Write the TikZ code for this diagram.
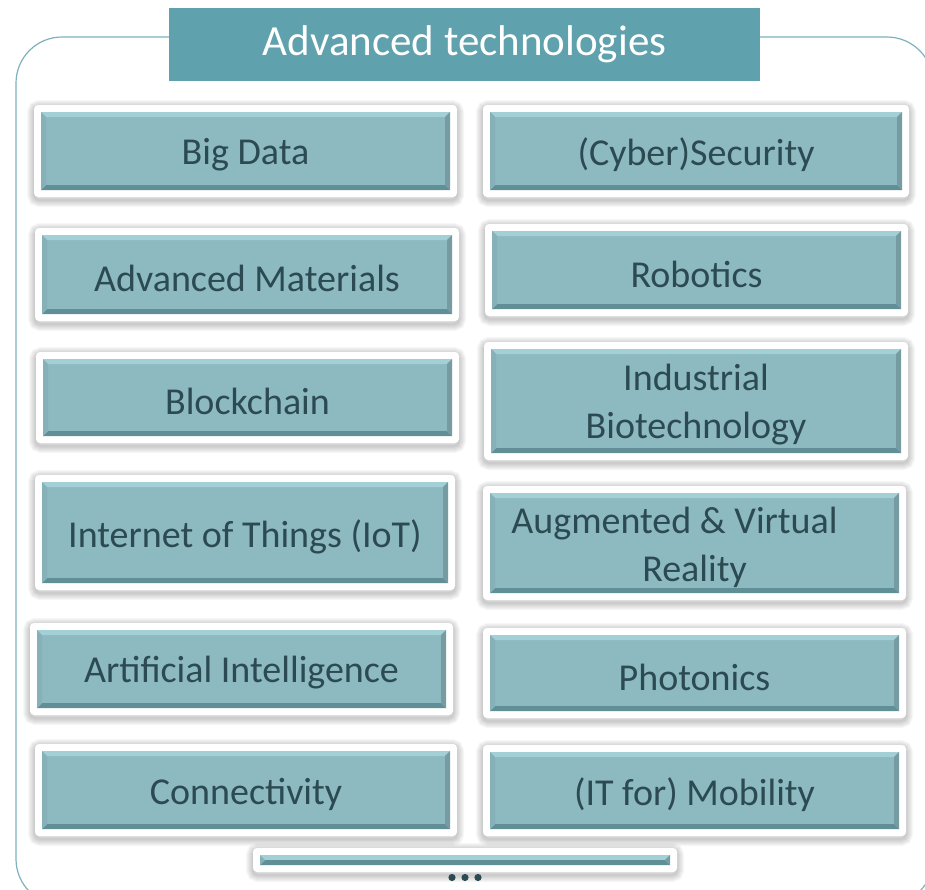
\documentclass[tikz,border=0pt]{standalone}
\usepackage{fontspec}
\setmainfont{Carlito}

\definecolor{frameteal}{HTML}{7DB2BD}
\definecolor{titleteal}{HTML}{5FA1AD}
\definecolor{boxteal}{HTML}{8DB9C0}
\definecolor{bevellight}{HTML}{A3CFD6}
\definecolor{beveldark}{HTML}{618F97}
\definecolor{bevelside}{HTML}{86B1B8}
\definecolor{techtext}{HTML}{2C4A51}

\tikzset{
  whiteframe/.style={fill=white, rounded corners=4pt},
  frameshadow/.style={draw=black, opacity=0.03, rounded corners=5pt},
  techlabel/.style={text=techtext, font=\fontsize{38}{48}\selectfont,
    align=center, inner sep=0pt},
  titlebox/.style={fill=titleteal, text=white, font=\fontsize{43}{50}\selectfont,
    minimum width=591pt, minimum height=73pt, inner sep=0pt},
}

% name, left, top, right, bottom, label
\newcommand{\techbox}[6]{%
  \foreach \w in {2,4,...,14}
    \draw[frameshadow, line width=\w pt] (#2-7,#3-5) rectangle (#4+7,#5+10);
  \path[whiteframe] (#2-7,#3-7) rectangle (#4+7,#5+7);
  \fill[boxteal] (#2,#3) rectangle (#4,#5);
  \fill[bevellight] (#2,#3) -- (#4,#3) -- (#4-5,#3+5) -- (#2+5,#3+5) -- cycle;
  \fill[beveldark] (#2,#5) -- (#4,#5) -- (#4-5,#5-5) -- (#2+5,#5-5) -- cycle;
  \fill[bevelside] (#2,#3) -- (#2+5,#3+5) -- (#2+5,#5-5) -- (#2,#5) -- cycle;
  \fill[bevelside!88!black] (#4,#3) -- (#4-5,#3+5) -- (#4-5,#5-5) -- (#4,#5) -- cycle;
  \node[techlabel] (#1) at ({(#2+#4)/2},{(#3+#5)/2+4}) {#6};
}

\begin{document}
\begin{tikzpicture}[x=1pt, y=-1pt]
  \useasboundingbox (0,0) rectangle (925,889);
  \clip (0,0) rectangle (925,889);

  % outer frame and title
  \draw[frameteal, line width=1.2pt, rounded corners=46pt] (16,37) rectangle (933,905);
  \node[titlebox] (title) at (464.5,44.5) {Advanced technologies};

  % left column
  \techbox{bigdata}{41}{112}{450}{190}{Big Data}
  \techbox{materials}{42}{235}{452}{314}{Advanced Materials}
  \techbox{blockchain}{43}{359}{452}{436}{Blockchain}
  \techbox{iot}{42}{482}{448}{583}{Internet of Things (IoT)}
  \techbox{ai}{37}{630}{446}{708}{Artificial Intelligence}
  \techbox{connectivity}{42}{751}{450}{829}{Connectivity}

  % right column
  \techbox{security}{490}{112}{902}{190}{(Cyber)Security}
  \techbox{robotics}{492}{231}{901}{309}{Robotics}
  \techbox{biotech}{491}{349}{901}{453}{Industrial\\Biotechnology}
  \techbox{arvr}{490}{493}{899}{593}{Augmented \& Virtual\hspace*{40pt}\\Reality}
  \techbox{photonics}{490}{635}{899}{711}{Photonics}
  \techbox{mobility}{490}{752}{899}{829}{(IT for) Mobility}

  % more to come
  \techbox{more}{260}{855}{670}{865}{}
  \foreach \dx in {452,465,478}
    \fill[techtext] (\dx,877.5) circle (3.6);
\end{tikzpicture}
\end{document}
